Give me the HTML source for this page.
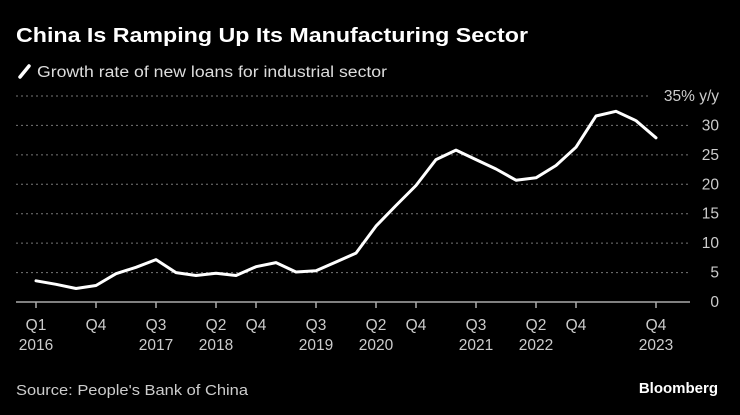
<!DOCTYPE html>
<html><head><meta charset="utf-8"><style>
html,body{margin:0;padding:0;background:#000;}
svg{display:block;font-family:"Liberation Sans",sans-serif;}
</style></head><body>
<svg id="chart" width="740" height="415" viewBox="0 0 740 415">
<text x="16" y="42" fill="#fff" font-size="20" font-weight="bold" textLength="512" lengthAdjust="spacingAndGlyphs">China Is Ramping Up Its Manufacturing Sector</text>
<line x1="20" y1="77" x2="29" y2="66" stroke="#fff" stroke-width="3.5" stroke-linecap="round"/>
<text x="37" y="77" fill="#ddd" font-size="15.5" textLength="350" lengthAdjust="spacingAndGlyphs">Growth rate of new loans for industrial sector</text>
<g id="grid"></g><g id="xaxis"></g><g id="series"></g>
<text x="16" y="395" fill="#ccc" font-size="14.5" textLength="232" lengthAdjust="spacingAndGlyphs">Source: People's Bank of China</text>
<text x="718" y="393" fill="#fff" font-size="15" font-weight="bold" text-anchor="end">Bloomberg</text>
</svg>
<script>
const values = [3.6,3.0,2.3,2.8,4.8,5.9,7.2,5.0,4.5,4.9,4.5,6.0,6.7,5.1,5.3,6.8,8.3,12.9,16.4,19.8,24.2,25.8,24.2,22.6,20.7,21.1,23.2,26.3,31.6,32.4,30.8,27.9];
const yTicks = [0,5,10,15,20,25,30,35];
const xTickIdx = [0,3,6,9,11,14,17,19,22,25,27,31];
const xTickQ = ["Q1","Q4","Q3","Q2","Q4","Q3","Q2","Q4","Q3","Q2","Q4","Q4"];
const xTickYr = ["2016","","2017","2018","","2019","2020","","2021","2022","","2023"];
const NS="http://www.w3.org/2000/svg";
const x = i => 36 + i*20;
const y = v => 302 - v*(206/35);
function mk(tag, attrs, parent){const e=document.createElementNS(NS,tag);for(const k in attrs)e.setAttribute(k,attrs[k]);parent.appendChild(e);return e;}
const grid=document.getElementById('grid');
yTicks.forEach(t=>{
  if(t>0){
    const gl=mk('line',{x1:16,x2:t===35?650:690,y1:y(t),y2:y(t),stroke:'#777','stroke-width':1,'stroke-dasharray':'2,3'},grid);
    
    
  }
  const lb=mk('text',{x:719,y:y(t)+5,fill:'#ccc','font-size':15.5,'text-anchor':'end'},grid);
  lb.textContent = t===35 ? '35% y/y' : String(t);
  
  
});
const xa=document.getElementById('xaxis');
const base=mk('line',{x1:16,x2:690,y1:302,y2:302,stroke:'#aaa','stroke-width':1.5},xa);


xTickIdx.forEach((idx,k)=>{
  const tk=mk('line',{x1:x(idx),x2:x(idx),y1:302,y2:308,stroke:'#aaa','stroke-width':1.5},xa);
  
  
  const q=mk('text',{x:x(idx),y:330,fill:'#ccc','font-size':15.5,'text-anchor':'middle'},xa);
  q.textContent=xTickQ[k];
  
  
  if(xTickYr[k]){
    const yr=mk('text',{x:x(idx),y:350,fill:'#ccc','font-size':15.5,'text-anchor':'middle'},xa);
    yr.textContent=xTickYr[k];
    
    
  }
});
const pts=values.map((v,i)=>x(i)+','+y(v).toFixed(1)).join(' ');
const line=mk('polyline',{points:pts,fill:'none',stroke:'#fff','stroke-width':3,'stroke-linejoin':'round','stroke-linecap':'round'},document.getElementById('series'));


</script>
</body></html>
